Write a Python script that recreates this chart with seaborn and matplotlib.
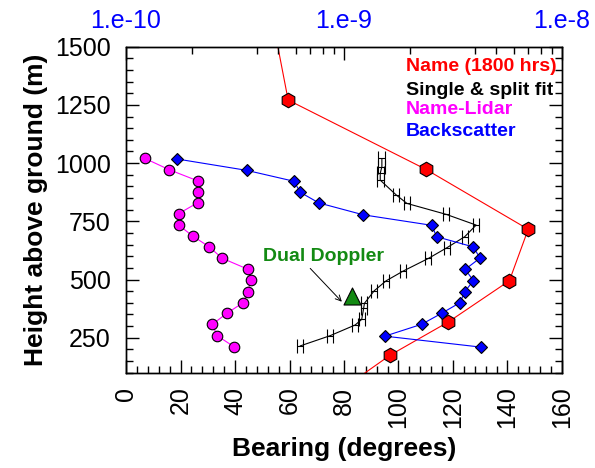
import matplotlib
matplotlib.use("Agg")
import matplotlib.pyplot as plt
import matplotlib.ticker as mticker
import seaborn as sns
import numpy as np

# ---- data ----
red_bearing = [75.7, 97.0, 118.3, 140.7, 147.6, 110.1, 59.5, 51.6]
red_height = [0, 176, 318, 495, 716, 973, 1271, 1750]

fit_bearing = [63.9, 74.9, 84.1, 86.5, 87.2, 87.5, 91.1, 95.5, 101.8, 111.0,
               117.8, 124.3, 128.5, 117.5, 103.1, 99.2, 93.3, 93.3, 93.9, 93.9]
fit_height = [215, 259, 305, 329, 376, 398, 452, 495, 537, 591,
              637, 684, 734, 780, 827, 863, 927, 956, 985, 1020]
fit_err = [1.1, 1.1, 1.1, 1.1, 1.1, 1.1, 1.1, 1.1, 1.1, 1.1,
           1.1, 1.1, 1.1, 1.1, 1.1, 1.1, 1.3, 1.3, 1.3, 1.3]

lidar_bearing = [7.0, 15.8, 26.3, 26.3, 26.3, 19.3, 19.3, 24.6, 30.6, 35.2,
                 44.8, 45.7, 44.8, 43.0, 37.0, 31.7, 33.4, 39.6]
lidar_height = [1020, 972, 924, 876, 830, 783, 734, 686, 640, 592,
                544, 498, 448, 401, 355, 308, 259, 212]

bs_bearing = [18.6, 44.3, 61.7, 63.9, 70.8, 87.1, 112.2, 114.0, 127.5, 129.9,
              124.5, 127.5, 124.3, 122.6, 115.8, 108.5, 95.0, 130.2]
bs_height = [1018, 969, 922, 875, 829, 778, 733, 684, 640, 592,
             544, 495, 448, 401, 355, 308, 257, 210]

dd_bearing = [82.8]
dd_height = [431]

legend_labels = ["Name (1800 hrs)", "Single & split fit", "Name-Lidar", "Backscatter"]
legend_colors = ["#ff0000", "#000000", "#ff00ff", "#0000ff"]

x_ticks = [0, 20, 40, 60, 80, 100, 120, 140, 160]
y_ticks = [250, 500, 750, 1000, 1250, 1500]
top_ticks = [1e-10, 1e-9, 1e-8]
top_labels = ["1.e-10", "1.e-9", "1.e-8"]

# ---- style ----
sns.set_style("ticks")
plt.rcParams["font.family"] = ["Liberation Sans", "DejaVu Sans"]
plt.rcParams["text.color"] = "black"
plt.rcParams["axes.labelcolor"] = "black"
plt.rcParams["xtick.color"] = "black"
plt.rcParams["ytick.color"] = "black"
plt.rcParams["axes.edgecolor"] = "black"

fig = plt.figure(figsize=(5.95, 4.68), dpi=100)
ax = fig.add_axes([0.2118, 0.2036, 0.7327, 0.6966])

sns.lineplot(x=red_bearing, y=red_height, sort=False, estimator=None, ax=ax,
             color="#ff0000", lw=0.8, marker="h", ms=10.5, mfc="#ff0000",
             mec="#000000", mew=0.8, zorder=3)
sns.lineplot(x=fit_bearing, y=fit_height, sort=False, estimator=None, ax=ax,
             color="black", lw=0.8, zorder=3)
ax.errorbar(fit_bearing, fit_height, xerr=fit_err, fmt="none", ecolor="black",
            elinewidth=0.8, capsize=5, capthick=0.8, zorder=3)
sns.lineplot(x=lidar_bearing, y=lidar_height, sort=False, estimator=None, ax=ax,
             color="#ff00ff", lw=0.8, marker="o", ms=7.6, mfc="#ff00ff",
             mec="#000000", mew=0.8, zorder=3)
sns.lineplot(x=bs_bearing, y=bs_height, sort=False, estimator=None, ax=ax,
             color="#0000ff", lw=0.8, marker="D", ms=6.5, mfc="#0000ff",
             mec="#000000", mew=0.8, zorder=4)
sns.scatterplot(x=dd_bearing, y=dd_height, ax=ax, marker="^", s=150,
                color="#138a13", edgecolor="black", linewidth=0.8, zorder=5)

ax.annotate("", xy=(79.2, 405), xytext=(67.6, 548),
            arrowprops=dict(arrowstyle="->", color="black", lw=0.7,
                            shrinkA=0, shrinkB=0))
ax.text(72.3, 601, "Dual Doppler", color="#138a13", fontsize=14,
        fontweight="bold", ha="center", va="center")

ax.set_xlim(0, 160)
ax.set_ylim(100, 1500)
ax.set_xticks(x_ticks)
ax.set_xticklabels([str(v) for v in x_ticks], rotation=90)
ax.set_yticks(y_ticks)
ax.xaxis.set_minor_locator(mticker.MultipleLocator(4))
ax.yaxis.set_minor_locator(mticker.MultipleLocator(50))
ax.tick_params(axis="both", which="major", direction="in", length=9.5,
               width=1.0, labelsize=18, colors="black", pad=10,
               top=False, right=True)
ax.tick_params(axis="both", which="minor", direction="in", length=5,
               width=1.0, top=False, right=True, colors="black")
ax.tick_params(axis="y", which="major", pad=11)

ax.set_xlabel("Bearing (degrees)", fontsize=19, fontweight="bold", color="black")
ax.set_ylabel("Height above ground (m)", fontsize=19, fontweight="bold", color="black")
ax.xaxis.set_label_coords(0.5, -0.198)
ax.yaxis.set_label_coords(-0.179, 0.5)

for sp in ax.spines.values():
    sp.set_linewidth(1.0)
    sp.set_color("black")

ytxt = [0.9387, 0.867, 0.806, 0.739]
for lab, col, yy in zip(legend_labels, legend_colors, ytxt):
    ax.text(0.642, yy, lab, color=col, fontsize=14, fontweight="bold",
            transform=ax.transAxes, ha="left", va="center")

ax2 = ax.twiny()
ax2.set_xscale("log")
ax2.set_xlim(1e-10, 1e-8)
ax2.xaxis.set_major_locator(mticker.FixedLocator(top_ticks))
ax2.xaxis.set_major_formatter(mticker.FixedFormatter(top_labels))
minors = [m * d for d in [1e-10, 1e-9] for m in [2, 4, 5, 6, 7, 8, 9]]
ax2.xaxis.set_minor_locator(mticker.FixedLocator(minors))
ax2.xaxis.set_minor_formatter(mticker.NullFormatter())
ax2.tick_params(axis="x", which="major", direction="in", length=9.5,
                width=1.0, labelsize=18, labelcolor="#0000ff", colors="black", pad=10)
ax2.tick_params(axis="x", which="minor", direction="in", length=5, width=1.0,
                colors="black")
ax2.xaxis.label.set_color("black")
ax2.tick_params(axis="x", labelcolor="#0000ff")
for sp in ax2.spines.values():
    sp.set_linewidth(1.0)
    sp.set_color("black")

fig.savefig("out.png", dpi=100)
